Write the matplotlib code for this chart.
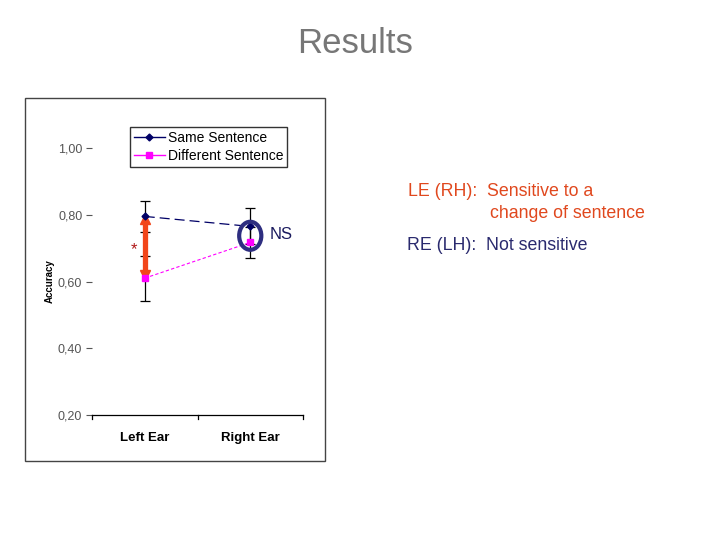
import matplotlib
matplotlib.use("Agg")
import matplotlib.pyplot as plt
from matplotlib.patches import Ellipse, Rectangle
from matplotlib.lines import Line2D

plt.rcParams['font.family'] = ['Liberation Sans', 'DejaVu Sans']

categories = ["Left Ear", "Right Ear"]
same_vals = [0.795, 0.765]
same_err = [0.047, 0.054]
diff_vals = [0.610, 0.717]
diff_err = [0.067, 0.046]
yticks = [0.20, 0.40, 0.60, 0.80, 1.00]
ytick_labels = ["0,20", "0,40", "0,60", "0,80", "1,00"]

W, H = 720, 540
fig = plt.figure(figsize=(7.2, 5.4), dpi=100)

def fx(px):
    return px / W

def fy(py):
    return 1 - py / H

# Chart frame
fig.patches.append(Rectangle((fx(25), fy(461)), fx(325) - fx(25), fy(98) - fy(461),
                             transform=fig.transFigure, fill=False,
                             edgecolor="#444444", lw=1.0))

ax = fig.add_axes([fx(92), fy(415), fx(303) - fx(92), fy(148) - fy(415)])
x = [0.5, 1.5]

navy = "#000066"
magenta = "#ff00ff"

ax.errorbar(x, same_vals, yerr=same_err, fmt='none', ecolor='black', elinewidth=0.9,
            capsize=3.5, capthick=0.9, zorder=2)
ax.errorbar(x, diff_vals, yerr=diff_err, fmt='none', ecolor='black', elinewidth=0.9,
            capsize=3.5, capthick=0.9, zorder=2)

ax.plot(x, same_vals, color=navy, lw=0.9, ls=(0, (8, 4)), zorder=3)
ax.plot(x, diff_vals, color=magenta, lw=0.8, ls=(0, (3, 2)), zorder=3)

# orange double arrow (shaft + heads) between the two Left Ear means
orange_arrow = "#f2461a"
ax.plot([x[0], x[0]], [diff_vals[0] + 0.02, same_vals[0] - 0.02], color=orange_arrow,
        lw=3.8, solid_capstyle='butt', zorder=4)
ax.plot([x[0]], [same_vals[0] - 0.008], marker='^', ms=7.5, color=orange_arrow,
        mec=orange_arrow, zorder=4, lw=0)
ax.plot([x[0]], [diff_vals[0] + 0.008], marker='v', ms=7.5, color=orange_arrow,
        mec=orange_arrow, zorder=4, lw=0)

ax.plot(x, same_vals, color=navy, lw=0, marker='D', ms=3.5, zorder=5)
ax.plot(x, diff_vals, color=magenta, lw=0, marker='s', ms=5, zorder=5)

handles = [Line2D([], [], color=navy, lw=1, marker='D', ms=3.5),
           Line2D([], [], color=magenta, lw=1, marker='s', ms=5)]
leg = ax.legend(handles, ["Same Sentence", "Different Sentence"],
                loc='upper left', bbox_to_anchor=((130 - 92) / 211, 1 + (148 - 127) / 267),
                frameon=True, fancybox=False, edgecolor='black', fontsize=10,
                handlelength=2.2, handletextpad=0.2, borderpad=0.3, labelspacing=0.25,
                borderaxespad=0)
leg.get_frame().set_linewidth(1.0)

ax.text(0.40, 0.695, "*", color="#b01818", fontsize=12, ha='center', va='center')

ell = Ellipse((1.5, 0.737), width=0.21, height=0.084, fill=False,
              edgecolor="#2e2e80", lw=3, zorder=6)
ax.add_patch(ell)
ax.text(1.68, 0.74, "NS", color="#1a1a5e", fontsize=12, ha='left', va='center')

ax.set_xlim(0, 2)
ax.set_ylim(0.2, 1.0)
ax.set_yticks(yticks)
ax.set_yticklabels(ytick_labels, color="#555555", fontsize=9)
ax.set_xticks([0.5, 1.5])
ax.set_xticklabels(categories, fontsize=9.5, fontweight='bold')
ax.tick_params(axis='x', length=0, pad=12)
ax.tick_params(axis='y', length=4, direction='out', color="#555555", pad=3)
for t in [0, 1, 2]:
    ax.plot([t, t], [0.2, 0.2 - 0.012], color='black', lw=0.9, clip_on=False)
for s in ['top', 'right', 'left']:
    ax.spines[s].set_visible(False)
ax.spines['bottom'].set_linewidth(0.9)
ax.set_ylabel("Accuracy", fontsize=7, fontweight='bold', labelpad=2)

fig.text(fx(355), fy(53), "Results", ha='center', va='baseline', fontsize=25, color="#777777")

orange = "#e0481e"
dnavy = "#2a2a6e"
fig.text(fx(408), fy(196), "LE (RH):  Sensitive to a", fontsize=12.8, color=orange, va='baseline')
fig.text(fx(490), fy(218), "change of sentence", fontsize=12.8, color=orange, va='baseline')
fig.text(fx(407), fy(250), "RE (LH):  Not sensitive", fontsize=12.8, color=dnavy, va='baseline')

fig.savefig("out.png", dpi=100)
